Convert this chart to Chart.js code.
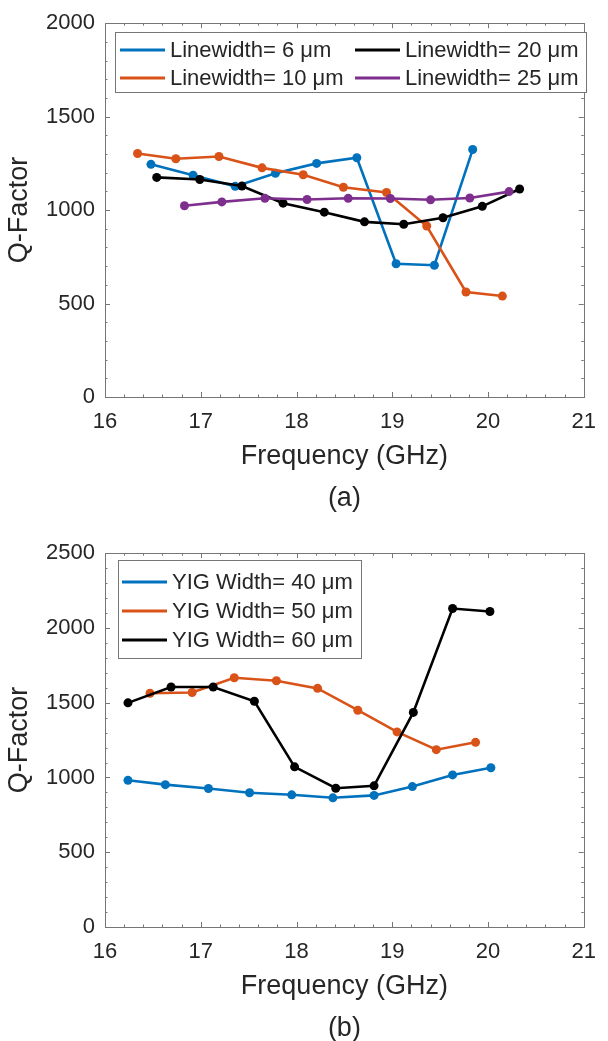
<!DOCTYPE html>
<html>
<head>
<meta charset="utf-8">
<script src="https://cdn.jsdelivr.net/npm/chart.js@4.4.1/dist/chart.umd.min.js"></script>
<style>
  html, body { margin: 0; padding: 0; background: #fff; overflow: hidden; }
  .panel { position: relative; width: 608px; height: 530px; }
</style>
</head>
<body>
<div class="panel"><canvas id="chartA"></canvas></div>
<div class="panel"><canvas id="chartB"></canvas></div>
<script>
  // (a) Q-factor vs frequency for different linewidths
  const lw6Freq  = [16.48, 16.92, 17.36, 17.78, 18.21, 18.63, 19.04, 19.44, 19.84];
  const lw6Q     = [1245, 1187, 1127, 1197, 1250, 1280, 713, 705, 1324];
  const lw10Freq = [16.34, 16.74, 17.19, 17.64, 18.07, 18.49, 18.94, 19.36, 19.77, 20.15];
  const lw10Q    = [1303, 1275, 1287, 1226, 1189, 1122, 1094, 915, 562, 540];
  const lw20Freq = [16.54, 16.99, 17.43, 17.86, 18.29, 18.71, 19.12, 19.53, 19.94, 20.33];
  const lw20Q    = [1175, 1164, 1129, 1037, 989, 937, 924, 959, 1020, 1113];
  const lw25Freq = [16.83, 17.22, 17.67, 18.11, 18.54, 18.98, 19.40, 19.81, 20.22];
  const lw25Q    = [1023, 1044, 1063, 1057, 1063, 1062, 1055, 1065, 1099];

  // (b) Q-factor vs frequency for different YIG widths
  const yig40Freq = [16.24, 16.63, 17.08, 17.51, 17.95, 18.38, 18.81, 19.21, 19.63, 20.03];
  const yig40Q    = [981, 952, 926, 898, 884, 864, 880, 939, 1017, 1065];
  const yig50Freq = [16.47, 16.91, 17.35, 17.79, 18.22, 18.64, 19.05, 19.46, 19.87];
  const yig50Q    = [1563, 1568, 1667, 1647, 1596, 1450, 1305, 1186, 1235];
  const yig60Freq = [16.24, 16.69, 17.13, 17.56, 17.98, 18.41, 18.81, 19.22, 19.63, 20.02];
  const yig60Q    = [1499, 1605, 1605, 1510, 1071, 928, 944, 1435, 2130, 2110];

  const freqTicks = [16, 17, 18, 19, 20, 21];
  const qTicksA = [0, 500, 1000, 1500, 2000];
  const qTicksB = [0, 500, 1000, 1500, 2000, 2500];

  const BLUE = '#0072BD', ORANGE = '#D95319', BLACK = '#000000', PURPLE = '#7E2F8E';
  const FONT = "'Liberation Sans', Arial, sans-serif";
  const INK = '#262626';
  const AXIS = '#767676';

  function series(label, xs, ys, color, idx, total) {
    return {
      label,
      data: xs.map((x, i) => ({ x, y: ys[i] })),
      borderColor: color,
      backgroundColor: color,
      borderWidth: 2.6,
      pointRadius: 4.5,
      pointBorderWidth: 0,
      pointHoverRadius: 4.5,
      tension: 0,
      order: total - idx   // later series drawn on top
    };
  }

  // box around the plot area with inward major/minor ticks on all four sides
  const framePlugin = {
    id: 'frame',
    beforeDatasetsDraw(chart, args, o) {
      const { ctx, chartArea: a, scales: { x, y } } = chart;
      ctx.save();
      ctx.strokeStyle = AXIS;
      ctx.lineWidth = 1;
      ctx.beginPath();
      const nx = Math.round((x.max - x.min) / o.xMinor);
      for (let i = 0; i <= nx; i++) {
        const v = x.min + i * o.xMinor;
        const len = i % o.xEvery === 0 ? 5 : 2.5;
        const px = Math.round(x.getPixelForValue(v)) + 0.5;
        ctx.moveTo(px, a.bottom); ctx.lineTo(px, a.bottom - len);
        ctx.moveTo(px, a.top); ctx.lineTo(px, a.top + len);
      }
      const ny = Math.round((y.max - y.min) / o.yMinor);
      for (let i = 0; i <= ny; i++) {
        const v = y.min + i * o.yMinor;
        const len = i % o.yEvery === 0 ? 5 : 2.5;
        const py = Math.round(y.getPixelForValue(v)) + 0.5;
        ctx.moveTo(a.left, py); ctx.lineTo(a.left + len, py);
        ctx.moveTo(a.right, py); ctx.lineTo(a.right - len, py);
      }
      ctx.stroke();
      ctx.strokeRect(Math.round(a.left) + 0.5, Math.round(a.top) + 0.5,
                     Math.round(a.right - a.left), Math.round(a.bottom - a.top));
      ctx.restore();
    }
  };

  // boxed legend inside the axes, filled column by column
  const boxLegend = {
    id: 'boxLegend',
    afterDatasetsDraw(chart, args, o) {
      const ctx = chart.ctx;
      ctx.save();
      ctx.fillStyle = '#fff';
      ctx.fillRect(o.x, o.y, o.w, o.h);
      ctx.strokeStyle = AXIS;
      ctx.lineWidth = 1;
      ctx.strokeRect(o.x + 0.5, o.y + 0.5, o.w, o.h);
      ctx.font = '22px ' + FONT;
      ctx.textBaseline = 'middle';
      chart.data.datasets.forEach((ds, i) => {
        const col = Math.floor(i / o.rows), row = i % o.rows;
        const lx = o.x + o.colX[col];
        const ly = o.y + o.firstRow + row * o.rowH;
        ctx.strokeStyle = ds.borderColor;
        ctx.lineWidth = 3;
        ctx.beginPath();
        ctx.moveTo(lx, ly); ctx.lineTo(lx + 45, ly);
        ctx.stroke();
        ctx.fillStyle = INK;
        ctx.fillText(ds.label, lx + 50, ly + 1);
      });
      ctx.restore();
    }
  };

  function makeOptions(yTicks, tag, legend) {
    const yMax = yTicks[yTicks.length - 1];
    return {
      responsive: true,
      maintainAspectRatio: false,
      animation: false,
      layout: { padding: { top: 19, right: 13, left: 0, bottom: 0 } },
      plugins: {
        legend: { display: false },
        tooltip: { enabled: false },
        frame: { xMinor: 0.2, xEvery: 5, yMinor: 100, yEvery: 5 },
        boxLegend: legend
      },
      scales: {
        x: {
          type: 'linear',
          min: freqTicks[0],
          max: freqTicks[freqTicks.length - 1],
          afterBuildTicks: s => { s.ticks = freqTicks.map(v => ({ value: v })); },
          afterFit: s => { s.height = 133; },
          grid: { display: false, drawTicks: false, tickLength: 0 },
          border: { display: false },
          ticks: { color: INK, padding: 12, maxRotation: 0, callback: v => String(v),
                   font: { family: FONT, size: 22 } },
          title: {
            display: true,
            text: ['Frequency (GHz)', tag],
            color: INK,
            padding: { top: 0, bottom: 11 },
            font: { family: FONT, size: 27, lineHeight: 1.55 }
          }
        },
        y: {
          min: 0,
          max: yMax,
          afterBuildTicks: s => { s.ticks = yTicks.map(v => ({ value: v })); },
          afterFit: s => { s.width = 105; },
          grid: { display: false, drawTicks: false, tickLength: 0 },
          border: { display: false },
          ticks: { color: INK, padding: 10, callback: v => String(v),
                   font: { family: FONT, size: 22 } },
          title: {
            display: true,
            text: 'Q-Factor',
            color: INK,
            padding: { top: 3, bottom: 0 },
            font: { family: FONT, size: 27 }
          }
        }
      }
    };
  }

  new Chart(document.getElementById('chartA'), {
    type: 'line',
    data: {
      datasets: [
        series('Linewidth= 6 μm', lw6Freq, lw6Q, BLUE, 0, 4),
        series('Linewidth= 10 μm', lw10Freq, lw10Q, ORANGE, 1, 4),
        series('Linewidth= 20 μm', lw20Freq, lw20Q, BLACK, 2, 4),
        series('Linewidth= 25 μm', lw25Freq, lw25Q, PURPLE, 3, 4)
      ]
    },
    options: makeOptions(qTicksA, '(a)',
      { x: 115, y: 32, w: 471, h: 60, rows: 2, firstRow: 18, rowH: 28, colX: [5, 240] }),
    plugins: [framePlugin, boxLegend]
  });

  new Chart(document.getElementById('chartB'), {
    type: 'line',
    data: {
      datasets: [
        series('YIG Width= 40 μm', yig40Freq, yig40Q, BLUE, 0, 3),
        series('YIG Width= 50 μm', yig50Freq, yig50Q, ORANGE, 1, 3),
        series('YIG Width= 60 μm', yig60Freq, yig60Q, BLACK, 2, 3)
      ]
    },
    options: makeOptions(qTicksB, '(b)',
      { x: 118, y: 30, w: 243, h: 98, rows: 3, firstRow: 22, rowH: 29, colX: [4] }),
    plugins: [framePlugin, boxLegend]
  });
</script>
</body>
</html>
